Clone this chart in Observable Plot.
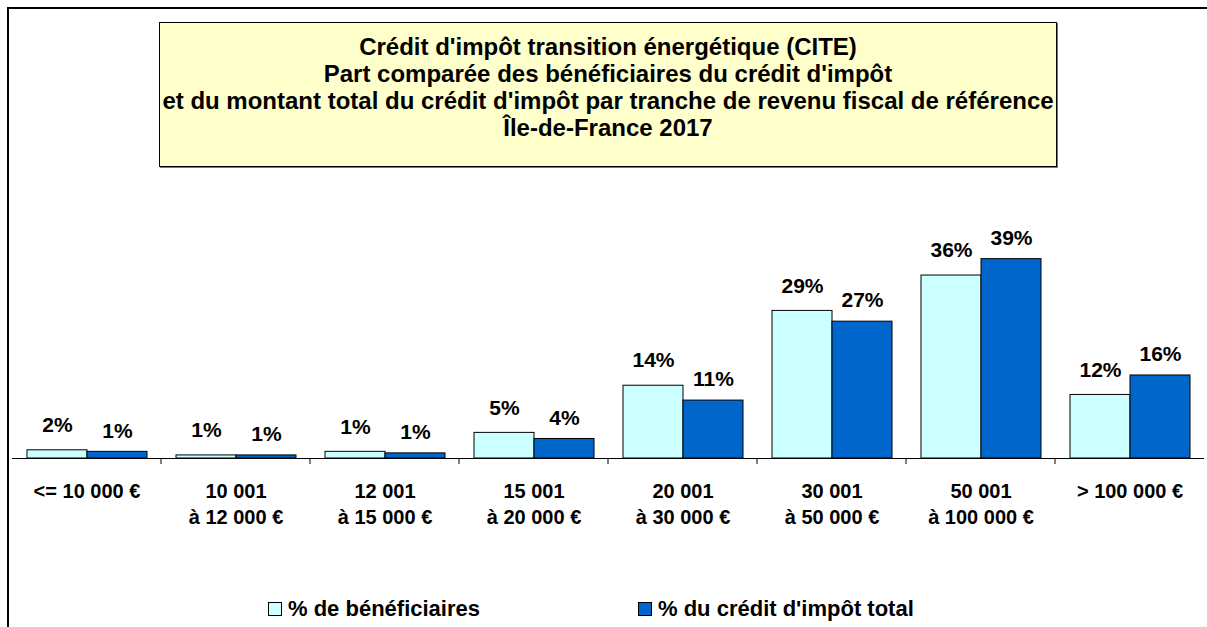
<!DOCTYPE html>
<html>
<head>
<meta charset="utf-8">
<script src="https://cdn.jsdelivr.net/npm/d3@7"></script>
<script src="https://cdn.jsdelivr.net/npm/@observablehq/plot@0.6"></script>
<style>
  html, body { margin: 0; padding: 0; background: #fff; }
  body { font-family: "Liberation Sans", Arial, sans-serif; font-weight: bold; color: #000; }
  #wrap { position: relative; width: 1207px; height: 627px; overflow: hidden; }
  #frame { position: absolute; left: 7px; top: 7px; width: 1400px; height: 800px; border-left: 2px solid #000; border-top: 2px solid #000; box-sizing: border-box; }
  #title { position: absolute; left: 159px; top: 22px; width: 898px; height: 145px; box-sizing: border-box;
           background: #FFFFCC; border: 1px solid #000; box-shadow: 1px 1px 0 #777;
           text-align: center; font-size: 24px; line-height: 27px; padding-top: 10px; white-space: nowrap; }
  #chart { position: absolute; left: 0; top: 0; }
  #legend { position: absolute; top: 596px; left: 0; width: 1207px; height: 26px; font-size: 22px; }
  .item { position: absolute; top: 0; display: flex; align-items: center; height: 26px; white-space: nowrap; }
  .sw { width: 14px; height: 14px; border: 1px solid #000; margin-right: 6px; box-sizing: border-box; }
</style>
</head>
<body>
<div id="wrap">
  <div id="frame"></div>
  <div id="chart"></div>
  <div id="title"></div>
  <div id="legend"></div>
</div>
<script>
// ---- data ----
const titleLines = [
  "Crédit d'impôt transition énergétique (CITE)",
  "Part comparée des bénéficiaires du crédit d'impôt",
  "et du montant total du crédit d'impôt par tranche de revenu fiscal de référence",
  "Île-de-France 2017"
];
const categories = [
  "<= 10 000 €",
  "10 001\nà 12 000 €",
  "12 001\nà 15 000 €",
  "15 001\nà 20 000 €",
  "20 001\nà 30 000 €",
  "30 001\nà 50 000 €",
  "50 001\nà 100 000 €",
  "> 100 000 €"
];
const series = ["% de bénéficiaires", "% du crédit d'impôt total"];
const beneficiaires = [1.6, 0.6, 1.3, 5.0, 14.2, 28.8, 35.7, 12.4];
const credit = [1.3, 0.6, 1.0, 3.8, 11.3, 26.7, 38.9, 16.2];
const colors = ["#CCFFFF", "#0066CC"];

// ---- build table ----
const data = [];
categories.forEach((c, i) => {
  data.push({category: c, series: series[0], value: beneficiaires[i]});
  data.push({category: c, series: series[1], value: credit[i]});
});

document.getElementById("title").innerHTML = titleLines.map(t => `<div>${t}</div>`).join("");

const font = "Liberation Sans, Arial, sans-serif";
const chart = Plot.plot({
  width: 1207,
  height: 560,
  marginLeft: 8,
  marginRight: 0,
  marginTop: 253,
  marginBottom: 102,
  style: {fontFamily: font, background: "transparent", overflow: "visible"},
  fx: {domain: categories, padding: 0, axis: null},
  x: {domain: series, paddingInner: 0, paddingOuter: 0.24, axis: null},
  y: {domain: [0, 40], axis: null},
  color: {domain: series, range: colors},
  marks: [
    Plot.barY(data, {fx: "category", x: "series", y: "value", fill: "series", stroke: "#000", strokeWidth: 1}),
    Plot.ruleY([0], {stroke: "#000", strokeWidth: 1}),
    Plot.text(data.filter(d => d.series === series[0]), {
      fx: "category", x: "series", y: "value", text: d => Math.round(d.value) + "%",
      dy: -25, fontSize: 21, fontWeight: "bold", fill: "#000"
    }),
    Plot.text(data.filter(d => d.series === series[1]), {
      fx: "category", x: "series", y: "value", text: d => Math.round(d.value) + "%",
      dy: -21, fontSize: 21, fontWeight: "bold", fill: "#000"
    }),
    Plot.text(categories, {
      fx: d => d, text: d => d, frameAnchor: "bottom", lineAnchor: "top",
      dy: 21, lineHeight: 1.3, fontSize: 20, fontWeight: "bold", fill: "#000"
    })
  ]
});
document.getElementById("chart").appendChild(chart);

// category boundary ticks from the fx scale
const fx = chart.scale("fx");
const y0 = chart.scale("y").apply(0);
const svg = d3.select(chart);
svg.append("g").selectAll("line").data(categories.slice(1)).join("line")
  .attr("x1", d => fx.apply(d)).attr("x2", d => fx.apply(d))
  .attr("y1", y0).attr("y2", y0 + 6).attr("stroke", "#000");

// legend
const legend = document.getElementById("legend");
const legendX = [268, 638];
series.forEach((s, i) => {
  const it = document.createElement("div");
  it.className = "item";
  it.style.left = legendX[i] + "px";
  it.innerHTML = `<span class="sw" style="background:${colors[i]}"></span><span>${s}</span>`;
  legend.appendChild(it);
});
</script>
</body>
</html>
